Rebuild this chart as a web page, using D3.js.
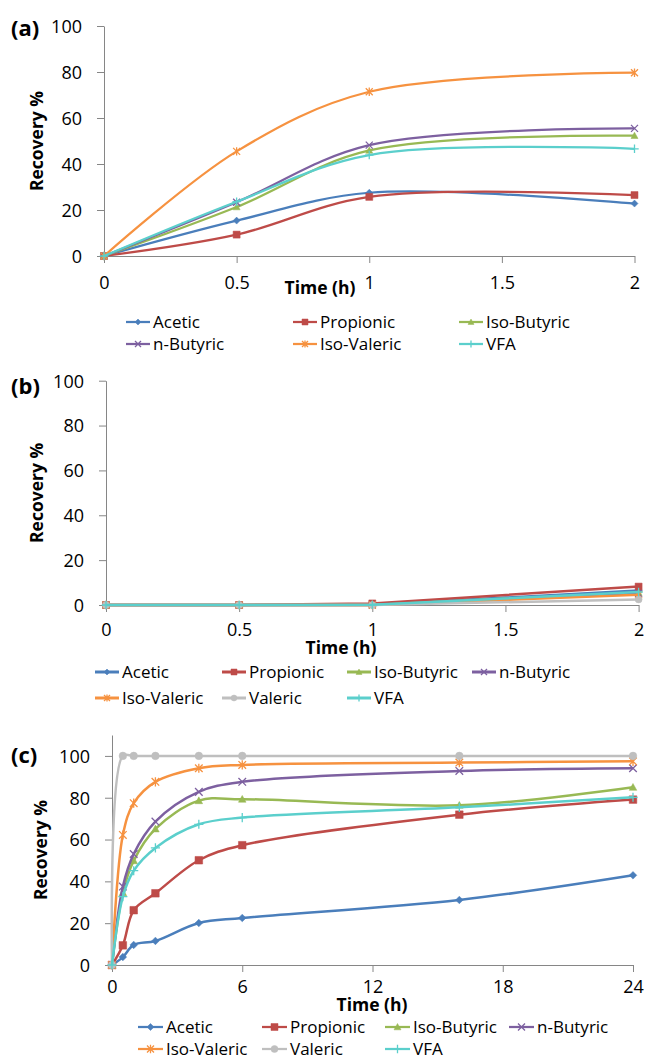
<!DOCTYPE html>
<html>
<head>
<meta charset="utf-8">
<script src="https://cdn.jsdelivr.net/npm/d3@7"></script>
<style>
  body { margin: 0; background: #fff; }
  svg { display: block; font-family: "Open Sans", sans-serif; }
  .axis path, .axis line { stroke: #868686; stroke-width: 1px; }
  .axis text { fill: #000; font-size: 18px; font-family: "Open Sans", sans-serif; }
  .title { font-weight: bold; font-size: 17.5px; fill: #000; }
  .plabel { font-weight: bold; font-size: 22px; fill: #000; }
  .legend text { font-size: 17px; fill: #000; }
</style>
</head>
<body>
<script>
// series names and colours, shared by the three panels
const names = ["Acetic", "Propionic", "Iso-Butyric", "n-Butyric", "Iso-Valeric", "Valeric", "VFA"];
const colors = ["#4A7EBB", "#BE4B48", "#98B954", "#7D60A0", "#F69240", "#BFBFBF", "#5BCFCC"];
const shapes = ["diamond", "square", "triangle", "x", "star", "circle", "plus"];

// panel (a)
const timeA = [0, 0.5, 1, 2];
const acetA = [0, 15.4, 27.5, 22.8];
const propA = [0, 9.3, 25.7, 26.5];
const isoButA = [0, 21.3, 45.9, 52.3];
const nButA = [0, 23.4, 48.2, 55.5];
const isoValA = [0, 45.5, 71.4, 79.7];
const vfaA = [0, 23.6, 43.9, 46.6];

// panel (b)
const timeB = [0, 0.5, 1, 2];
const acetB = [0, 0, 0.1, 6.5];
const propB = [0, 0, 0.7, 8.2];
const isoButB = [0, 0, 0, 5.5];
const nButB = [0, 0, 0, 5.2];
const isoValB = [0, 0, 0, 4.6];
const valB = [0, 0, 0, 2.5];
const vfaB = [0, 0, 0.1, 5.8];

// panel (c)
const timeC = [0, 0.5, 1, 2, 4, 6, 16, 24];
const acetC = [0, 3.8, 9.6, 11.5, 20.1, 22.5, 31.1, 42.9];
const propC = [0, 9.4, 26.2, 34.3, 50.1, 57.3, 71.9, 79.1];
const isoButC = [0, 34.6, 49.9, 65.1, 78.6, 79.3, 76.4, 85.0];
const nButC = [0, 37.5, 53.1, 68.6, 82.8, 87.6, 92.8, 94.1];
const isoValC = [0, 62.2, 77.4, 87.6, 94.1, 95.7, 96.8, 97.4];
const valC = [0, 100, 100, 100, 100, 100, 100, 100];
const vfaC = [0, 32.7, 45.1, 56.0, 67.3, 70.5, 75.4, 80.2];

const ticksA = [0, 0.5, 1, 1.5, 2];
const ticksC = [0, 6, 12, 18, 24];
const yTicks = [0, 20, 40, 60, 80, 100];

const W = 646, H = 1058;
const svg = d3.select("body").append("svg").attr("width", W).attr("height", H);

// marker paths, drawn around the point
function marker(shape, s) {
  switch (shape) {
    case "diamond": return `M0,${-s}L${s},0L0,${s}L${-s},0Z`;
    case "square": return `M${-s},${-s}H${s}V${s}H${-s}Z`;
    case "triangle": return `M0,${-s}L${s},${s * 0.8}L${-s},${s * 0.8}Z`;
    case "circle": return d3.symbol(d3.symbolCircle, Math.PI * s * s)();
    case "x": return `M${-s},${-s}L${s},${s}M${-s},${s}L${s},${-s}`;
    case "star": return `M${-s},${-s}L${s},${s}M${-s},${s}L${s},${-s}M0,${-s * 1.2}L0,${s * 1.2}`;
    case "plus": return `M${-s * 1.2},0H${s * 1.2}M0,${-s * 1.2}V${s * 1.2}`;
  }
}
const filled = sh => ["diamond", "square", "triangle", "circle"].includes(sh);

function drawPanel(p) {
  const x = d3.scaleLinear().domain(p.xDomain).range([p.left, p.right]);
  const y = d3.scaleLinear().domain(p.yDomain).range([p.bottom, p.top]);
  const g = svg.append("g");

  g.append("g").attr("class", "axis")
    .attr("transform", `translate(0,${p.bottom})`)
    .call(d3.axisBottom(x).tickValues(p.xTicks).tickSize(7).tickSizeOuter(0).tickFormat(d3.format("")))
    .call(a => a.selectAll("text").attr("y", p.xLabelOff).attr("dy", "0.35em"));

  g.append("g").attr("class", "axis")
    .attr("transform", `translate(${p.left},0)`)
    .call(d3.axisLeft(y).tickValues(yTicks).tickSize(7).tickSizeOuter(0))
    .call(a => a.selectAll("text").attr("x", -p.yLabelOff).attr("dy", "0.35em"));

  g.append("text").attr("class", "plabel")
    .attr("x", 11).attr("y", p.labelY).attr("dy", "0.35em").text(p.label);
  g.append("text").attr("class", "title")
    .attr("transform", `translate(${p.yTitleX},${(p.top + p.bottom) / 2}) rotate(-90)`)
    .attr("text-anchor", "middle").attr("dy", "0.35em").text("Recovery %");
  g.append("text").attr("class", "title")
    .attr("x", p.xTitleX).attr("y", p.xTitleY).attr("dy", "0.35em")
    .attr("text-anchor", "middle").text("Time (h)");

  const line = d3.line().x(d => x(d[0])).y(d => y(d[1])).curve(p.curve);

  p.series.forEach(s => {
    const i = names.indexOf(s.name);
    const pts = p.time.map((t, k) => [t, s.values[k]]);
    g.append("path").attr("d", line(pts))
      .attr("fill", "none").attr("stroke", colors[i])
      .attr("stroke-width", p.lineWidth).attr("stroke-linejoin", "round");
    g.selectAll(null).data(pts).join("path")
      .attr("transform", d => `translate(${x(d[0])},${y(d[1])})`)
      .attr("d", marker(shapes[i], p.markerSize))
      .attr("fill", filled(shapes[i]) ? colors[i] : "none")
      .attr("stroke", colors[i]).attr("stroke-width", filled(shapes[i]) ? 0.5 : 1.3);
  });

  const lg = g.append("g").attr("class", "legend");
  p.series.forEach((s, k) => {
    const i = names.indexOf(s.name);
    const cx = p.legCols[k % p.legCols.length];
    const cy = p.legRows[Math.floor(k / p.legCols.length)];
    lg.append("line").attr("x1", cx).attr("x2", cx + p.legLine).attr("y1", cy).attr("y2", cy)
      .attr("stroke", colors[i]).attr("stroke-width", p.legWidth);
    lg.append("path").attr("transform", `translate(${cx + p.legLine / 2},${cy})`)
      .attr("d", marker(shapes[i], p.legMarker))
      .attr("fill", filled(shapes[i]) ? colors[i] : "none")
      .attr("stroke", colors[i]).attr("stroke-width", filled(shapes[i]) ? 0.5 : 1.3);
    lg.append("text").attr("x", cx + p.legLine + 3).attr("y", cy).attr("dy", "0.35em")
      .text(s.name);
  });
}

drawPanel({
  label: "(a)", labelY: 28, time: timeA, xDomain: [0, 2], yDomain: [0, 100], xTicks: ticksA,
  left: 104, right: 634.5, top: 26, bottom: 256,
  xLabelOff: 27, yLabelOff: 22, yTitleX: 37, xTitleX: 320, xTitleY: 288,
  curve: d3.curveCatmullRom.alpha(0.5), lineWidth: 2.25, markerSize: 3.5,
  series: [
    { name: "Acetic", values: acetA }, { name: "Propionic", values: propA },
    { name: "Iso-Butyric", values: isoButA }, { name: "n-Butyric", values: nButA },
    { name: "Iso-Valeric", values: isoValA }, { name: "VFA", values: vfaA }
  ],
  legCols: [126, 293, 459], legRows: [322, 344], legLine: 24, legWidth: 2.25, legMarker: 3
});

drawPanel({
  label: "(b)", labelY: 386, time: timeB, xDomain: [0, 2], yDomain: [0, 100], xTicks: ticksA,
  left: 106, right: 638.6, top: 380.7, bottom: 605,
  xLabelOff: 25, yLabelOff: 22, yTitleX: 37, xTitleX: 341, xTitleY: 648,
  curve: d3.curveLinear, lineWidth: 2.5, markerSize: 3.5,
  series: [
    { name: "Acetic", values: acetB }, { name: "Propionic", values: propB },
    { name: "Iso-Butyric", values: isoButB }, { name: "n-Butyric", values: nButB },
    { name: "Iso-Valeric", values: isoValB }, { name: "Valeric", values: valB },
    { name: "VFA", values: vfaB }
  ],
  legCols: [95, 222, 347, 472], legRows: [672, 698], legLine: 24, legWidth: 3, legMarker: 3
});

drawPanel({
  label: "(c)", labelY: 755, time: timeC, xDomain: [0, 24], yDomain: [0, 110], xTicks: ticksC,
  left: 112, right: 633, top: 735, bottom: 965,
  xLabelOff: 22, yLabelOff: 22, yTitleX: 41, xTitleX: 372, xTitleY: 1005,
  curve: d3.curveCatmullRom.alpha(0.5), lineWidth: 2.5, markerSize: 3.8,
  series: [
    { name: "Acetic", values: acetC }, { name: "Propionic", values: propC },
    { name: "Iso-Butyric", values: isoButC }, { name: "n-Butyric", values: nButC },
    { name: "Iso-Valeric", values: isoValC }, { name: "Valeric", values: valC },
    { name: "VFA", values: vfaC }
  ],
  legCols: [138, 262, 385, 509], legRows: [1027, 1049], legLine: 25, legWidth: 2.25, legMarker: 3.5
});
</script>
</body>
</html>
